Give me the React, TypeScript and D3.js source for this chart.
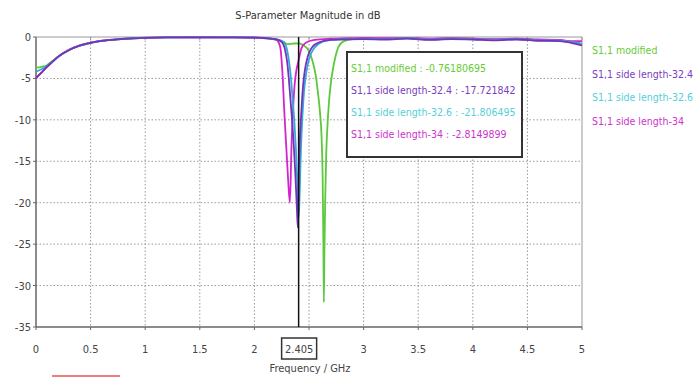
import React from "react";
import * as d3 from "d3";

const W = 694, H = 377;
const xTicks = [0, 0.5, 1, 1.5, 2, 2.5, 3, 3.5, 4, 4.5, 5];
const xTickLabels = ["0", "0.5", "1", "1.5", "2", "", "3", "3.5", "4", "4.5", "5"];
const yTicks = [0, -5, -10, -15, -20, -25, -30, -35];
const markerFreq = 2.405;
const markerLabel = "2.405";

const seriesNames = ["S1,1 modified", "S1,1 side length-32.4", "S1,1 side length-32.6", "S1,1 side length-34"];
const markerValues = ["-0.76180695", "-17.721842", "-21.806495", "-2.8149899"];
const lineColors = ["#5cc83c", "#7434b8", "#34a8d8", "#d424d0"];
const textColors = ["#66cc33", "#7a3cc0", "#55cfd8", "#cc33cc"];

const fModified = [0, 0.05, 0.1, 0.15, 0.2, 0.3, 0.4, 0.5, 0.6, 0.75, 0.9, 1.0, 1.2, 1.5, 1.8, 2.0, 2.1, 2.2, 2.25, 2.3, 2.35, 2.405, 2.45, 2.5, 2.53, 2.56, 2.58, 2.6, 2.615, 2.625, 2.632, 2.636, 2.641, 2.648, 2.658, 2.67, 2.685, 2.7, 2.72, 2.74, 2.77, 2.82, 2.9, 3.0, 3.2, 3.4, 3.6, 3.8, 4.0, 4.2, 4.4, 4.6, 4.8, 4.9, 5.0];
const sModified = [-3.7, -3.6, -3.4, -2.9, -2.4, -1.6, -1.05, -0.7, -0.47, -0.27, -0.15, -0.1, -0.05, -0.04, -0.05, -0.07, -0.13, -0.25, -0.5, -0.85, -0.8, -0.76, -1.0, -1.7, -2.8, -4.5, -6.5, -9, -12, -17, -25, -32, -26, -20, -14, -10.5, -7.5, -5.6, -3.8, -2.5, -1.2, -0.5, -0.25, -0.15, -0.2, -0.12, -0.25, -0.15, -0.2, -0.3, -0.2, -0.35, -0.4, -0.55, -0.9];

const f324 = [0, 0.05, 0.1, 0.15, 0.2, 0.3, 0.4, 0.5, 0.6, 0.75, 0.9, 1.0, 1.2, 1.5, 1.8, 2.0, 2.1, 2.2, 2.25, 2.28, 2.3, 2.315, 2.33, 2.345, 2.36, 2.375, 2.39, 2.398, 2.405, 2.415, 2.43, 2.445, 2.46, 2.49, 2.53, 2.6, 2.7, 2.8, 3.0, 3.2, 3.4, 3.6, 3.8, 4.0, 4.2, 4.4, 4.6, 4.8, 4.9, 5.0];
const s324 = [-4.9, -4.3, -3.6, -3.0, -2.4, -1.6, -1.05, -0.7, -0.48, -0.28, -0.16, -0.1, -0.05, -0.04, -0.05, -0.08, -0.15, -0.3, -0.6, -1.5, -3, -5, -7.5, -10, -13, -16.5, -21, -23, -17.7, -13, -9, -6, -4.2, -2.3, -1.2, -0.6, -0.35, -0.3, -0.25, -0.3, -0.2, -0.35, -0.25, -0.3, -0.4, -0.3, -0.45, -0.5, -0.7, -1.0];

const f326 = [0, 0.05, 0.1, 0.15, 0.2, 0.3, 0.4, 0.5, 0.6, 0.75, 0.9, 1.0, 1.2, 1.5, 1.8, 2.0, 2.1, 2.2, 2.27, 2.3, 2.32, 2.335, 2.35, 2.365, 2.38, 2.395, 2.405, 2.412, 2.425, 2.44, 2.455, 2.475, 2.5, 2.55, 2.62, 2.7, 2.8, 3.0, 3.2, 3.4, 3.6, 3.8, 4.0, 4.2, 4.4, 4.6, 4.8, 4.9, 5.0];
const s326 = [-4.2, -3.9, -3.5, -3.0, -2.45, -1.6, -1.05, -0.7, -0.47, -0.27, -0.15, -0.1, -0.05, -0.04, -0.05, -0.07, -0.14, -0.28, -0.6, -1.6, -3.2, -5, -7.5, -10, -13.5, -18, -21.8, -20, -14, -9.5, -6.5, -4.3, -2.7, -1.3, -0.6, -0.35, -0.25, -0.2, -0.25, -0.15, -0.3, -0.2, -0.25, -0.35, -0.25, -0.4, -0.45, -0.6, -0.8];

const f34 = [0, 0.05, 0.1, 0.15, 0.2, 0.3, 0.4, 0.5, 0.6, 0.75, 0.9, 1.0, 1.2, 1.5, 1.8, 2.0, 2.1, 2.2, 2.22, 2.24, 2.25, 2.26, 2.27, 2.28, 2.295, 2.31, 2.325, 2.34, 2.355, 2.37, 2.385, 2.405, 2.43, 2.47, 2.55, 2.7, 2.85, 3.0, 3.2, 3.4, 3.6, 3.8, 4.0, 4.2, 4.4, 4.6, 4.8, 4.9, 5.0];
const s34 = [-5.0, -4.3, -3.6, -3.0, -2.4, -1.55, -1.0, -0.68, -0.45, -0.26, -0.14, -0.09, -0.05, -0.03, -0.04, -0.06, -0.12, -0.35, -0.6, -1.5, -3, -5, -8, -10.5, -14, -17.5, -20, -13, -8.5, -5.5, -4, -2.8, -1.4, -0.7, -0.35, -0.2, -0.15, -0.1, -0.15, -0.1, -0.2, -0.15, -0.2, -0.25, -0.2, -0.3, -0.35, -0.5, -0.5];

const seriesF = [fModified, f324, f326, f34];
const seriesS = [sModified, s324, s326, s34];

const FONT = "'Liberation Sans Narrow', 'DejaVu Sans Condensed', 'Open Sans', sans-serif";

export default function App() {
  const x = d3.scaleLinear().domain([0, 5]).range([36, 582]);
  const y = d3.scaleLinear().domain([-35, 0]).range([327, 37]);
  const line = d3.line<[number, number]>().x(d => x(d[0])).y(d => y(d[1])).curve(d3.curveMonotoneX);
  const drawOrder = [0, 3, 2, 1];
  return (
    <svg width={W} height={H} style={{ position: "absolute", left: 0, top: 0, background: "#fff" }} fontFamily={FONT}>
      <rect x={0} y={0} width={W} height={H} fill="#fff" />
      <text x={308} y={19} textAnchor="middle" fontSize={11} fill="#333">S-Parameter Magnitude in dB</text>
      {xTicks.slice(1, -1).map(t => (
        <line key={"gx" + t} x1={x(t)} x2={x(t)} y1={y(0)} y2={y(-35)} stroke="#999" strokeDasharray="1.5,2" strokeWidth={1} />
      ))}
      {yTicks.slice(1, -1).map(t => (
        <line key={"gy" + t} x1={x(0)} x2={x(5)} y1={y(t)} y2={y(t)} stroke="#999" strokeDasharray="1.5,2" strokeWidth={1} />
      ))}
      <line x1={x(0)} x2={x(5)} y1={y(0)} y2={y(0)} stroke="#999" />
      <line x1={x(5)} x2={x(5)} y1={y(0)} y2={y(-35)} stroke="#999" />
      <line x1={x(0)} x2={x(0)} y1={y(0)} y2={y(-35)} stroke="#666" strokeWidth={1.5} />
      <line x1={x(0)} x2={x(5)} y1={y(-35)} y2={y(-35)} stroke="#666" strokeWidth={1.5} />
      {xTicks.map(t => (
        <g key={"xt" + t}>
          <line x1={x(t)} x2={x(t)} y1={y(-35)} y2={y(-35) + 3} stroke="#666" />
          <line x1={x(t)} x2={x(t)} y1={y(0)} y2={y(0) + 3} stroke="#999" />
        </g>
      ))}
      {yTicks.map(t => (
        <line key={"yt" + t} x1={x(0) - 3} x2={x(0)} y1={y(t)} y2={y(t)} stroke="#666" />
      ))}
      {xTicks.map((t, i) => (
        <text key={"xl" + t} x={x(t)} y={353} textAnchor="middle" fontSize={11} fill="#444">{xTickLabels[i]}</text>
      ))}
      {yTicks.map(t => (
        <text key={"yl" + t} x={31} y={y(t) + 4} textAnchor="end" fontSize={11} fill="#444">{String(t)}</text>
      ))}
      <text x={310} y={372} textAnchor="middle" fontSize={11} fill="#444">Frequency / GHz</text>
      {drawOrder.map(i => (
        <path key={"c" + i} d={line(seriesF[i].map((f, k) => [f, seriesS[i][k]] as [number, number])) || ""} fill="none" stroke={lineColors[i]} strokeWidth={1.8} />
      ))}
      <line x1={x(markerFreq)} x2={x(markerFreq)} y1={y(0)} y2={y(-35)} stroke="#111" strokeWidth={1.5} />
      <rect x={x(markerFreq) - 17} y={338} width={35} height={21} fill="#fff" stroke="#333" strokeWidth={1.5} />
      <text x={x(markerFreq) + 0.5} y={353} textAnchor="middle" fontSize={11} fill="#444">{markerLabel}</text>
      <rect x={347} y={52} width={175} height={105} fill="#fff" stroke="#333" strokeWidth={2} />
      {seriesNames.map((n, i) => (
        <text key={"mv" + i} x={351} y={72 + i * 22} fontSize={10.5} fill={textColors[i]}>{n + " : " + markerValues[i]}</text>
      ))}
      {seriesNames.map((n, i) => (
        <text key={"lg" + i} x={592} y={54 + i * 23.5} fontSize={10.5} fill={textColors[i]}>{n}</text>
      ))}
      <line x1={52} x2={120} y1={376} y2={376} stroke="#e85050" strokeWidth={1.5} />
    </svg>
  );
}
